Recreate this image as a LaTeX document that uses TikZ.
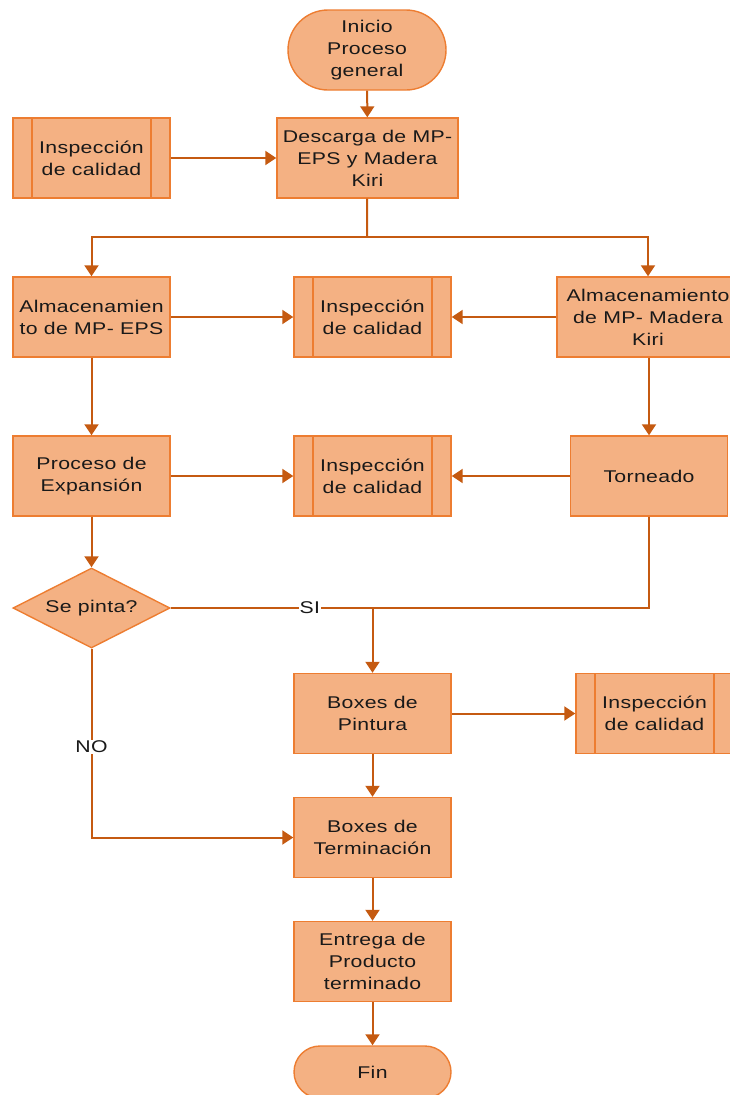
\documentclass[tikz,border=0pt]{standalone}
\usepackage{fontspec}
\setmainfont{Liberation Sans}[FakeStretch=1.25,LetterSpace=2]
\usetikzlibrary{arrows.meta,shapes.geometric}

\definecolor{boxfill}{HTML}{F4B183}
\definecolor{boxedge}{HTML}{ED7D31}
\definecolor{flow}{HTML}{C55A11}

\tikzset{
  txt/.style={text=black!90, font=\fontsize{17}{22}\selectfont},
  base/.style={txt, fill=boxfill, draw=boxedge, line width=1.4pt, inner sep=0pt,
    align=center},
  stepbox/.style={base, rectangle, minimum width=157pt, minimum height=80pt},
  subproc/.style={stepbox,
    path picture={
      \draw[boxedge, line width=1.4pt]
        ([xshift=19pt]path picture bounding box.north west) --
        ([xshift=19pt]path picture bounding box.south west);
      \draw[boxedge, line width=1.4pt]
        ([xshift=-19pt]path picture bounding box.north east) --
        ([xshift=-19pt]path picture bounding box.south east);
    }},
  terminal/.style={base, rectangle, rounded corners=#1},
  decision/.style={base, diamond, aspect=1.9625, minimum width=157pt, minimum height=80pt},
  line/.style={draw=flow, line width=2pt},
  arr/.style={line, -{Triangle[length=11pt,width=14pt]}},
  tag/.style={txt, fill=white, inner sep=1pt}
}

\begin{document}
\begin{tikzpicture}[x=1pt, y=-1pt]
\useasboundingbox (0,0) rectangle (729,1095);

% nodes
\node[terminal=40pt, minimum width=158pt, minimum height=80pt] (start) at (367,50)
  {Inicio\\Proceso\\general};
\node[stepbox, minimum width=181pt] (desc) at (367.5,158) {Descarga de MP-\\EPS y Madera\\Kiri};
\node[subproc] (insp1) at (91.5,158) {Inspección\\de calidad};

\node[stepbox] (almeps) at (91.5,317) {Almacenamien\\to de MP- EPS};
\node[subproc] (insp2) at (372.5,317) {Inspección\\de calidad};
\node[stepbox, minimum width=182pt] (almmad) at (648,317) {Almacenamiento\\de MP- Madera\\Kiri};

\node[stepbox] (proc) at (91.5,476) {Proceso de\\Expansión};
\node[subproc] (insp3) at (372.5,476) {Inspección\\de calidad};
\node[stepbox] (torn) at (649,476) {Torneado};

\node[decision, label={[txt]center:Se pinta?}] (dec) at (91.5,608) {};

\node[stepbox] (pint) at (372.5,713.5) {Boxes de\\Pintura};
\node[subproc] (insp4) at (654.5,713.5) {Inspección\\de calidad};

\node[stepbox] (term) at (372.5,837.5) {Boxes de\\Terminación};
\node[stepbox] (entr) at (372.5,961.5) {Entrega de\\Producto\\terminado};
\node[terminal=26pt, minimum width=157pt, minimum height=52pt] (fin) at (372.5,1072) {Fin};

% junction points
\coordinate (split) at (367,237);
\coordinate (merge) at (372.5,608);

% connectors
\draw[arr] (start) -- (desc);
\draw[arr] (insp1) -- (desc);
\draw[line] (desc) -- (split);
\draw[arr] (split) -| (almeps);
\draw[arr] (split) -| (almmad);

\draw[arr] (almeps) -- (insp2);
\draw[arr] (almmad) -- (insp2);
\draw[arr] (almeps) -- (proc);
\draw[arr] (almmad.south -| torn) -- (torn);

\draw[arr] (proc) -- (insp3);
\draw[arr] (torn) -- (insp3);
\draw[arr] (proc) -- (dec);

\draw[line] (torn) |- (merge);
\draw[line] (dec.east) -- node[tag, pos=0.69] {SI} (merge);
\draw[arr] (merge) -- (pint);

\draw[arr] (pint) -- (insp4);
\draw[arr] (pint) -- (term);
\draw[arr] (dec.south) |- node[tag, pos=0.26] {NO} (term);
\draw[arr] (term) -- (entr);
\draw[arr] (entr) -- (fin);
\end{tikzpicture}
\end{document}
